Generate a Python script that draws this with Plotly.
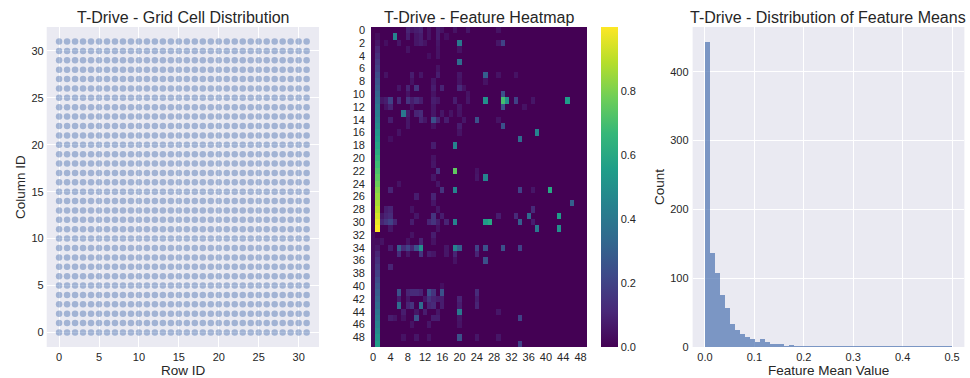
import plotly.graph_objects as go

# ---------------- data ----------------
# 32 x 32 grid of cell ids (row id, column id)
grid_rows = list(range(32))
grid_cols = list(range(32))

# Feature heatmap: first 50 cells x first 50 features
n_cells = 50
n_feats = 50
feature0 = [0.0] * 32 + [0.03] * 18
feature1 = [0.00, 0.03, 0.06, 0.10, 0.13, 0.16, 0.19, 0.23, 0.26, 0.29,
            0.32, 0.35, 0.39, 0.42, 0.45, 0.48, 0.52, 0.55, 0.58, 0.61,
            0.65, 0.68, 0.71, 0.74, 0.77, 0.81, 0.84, 0.87, 0.90, 0.94,
            0.97, 1.00, 0.00, 0.03, 0.06, 0.10, 0.13, 0.16, 0.19, 0.23,
            0.26, 0.29, 0.32, 0.35, 0.39, 0.42, 0.45, 0.48, 0.52, 0.55]
# remaining non-zero entries: (cell, feature, value)
feature_cells = [
    (0, 8, 0.10), (0, 9, 0.06), (0, 10, 0.08), (0, 11, 0.10), (0, 13, 0.05), (0, 15, 0.08),
    (0, 16, 0.05), (0, 19, 0.05), (0, 22, 0.06), (0, 29, 0.05),
    (1, 5, 0.45), (1, 8, 0.08), (1, 10, 0.06), (1, 11, 0.08), (1, 13, 0.05), (1, 15, 0.08), (1, 17, 0.04),
    (2, 3, 0.04), (2, 6, 0.06), (2, 10, 0.06), (2, 11, 0.08), (2, 12, 0.05), (2, 15, 0.06),
    (2, 20, 0.40), (2, 29, 0.06), (2, 30, 0.20),
    (3, 8, 0.05), (3, 15, 0.05), (3, 20, 0.05),
    (4, 13, 0.04), (4, 15, 0.05),
    (5, 20, 0.35),
    (6, 15, 0.05),
    (7, 3, 0.05), (7, 9, 0.08), (7, 11, 0.06), (7, 15, 0.08), (7, 20, 0.06), (7, 26, 0.30),
    (7, 29, 0.05), (7, 33, 0.05),
    (8, 9, 0.05), (8, 14, 0.06), (8, 20, 0.05), (8, 26, 0.05),
    (9, 6, 0.06), (9, 8, 0.10), (9, 10, 0.15), (9, 14, 0.08), (9, 16, 0.10), (9, 20, 0.12), (9, 21, 0.05),
    (10, 8, 0.05), (10, 14, 0.05), (10, 22, 0.05), (10, 30, 0.25),
    (11, 2, 0.06), (11, 3, 0.08), (11, 4, 0.20), (11, 6, 0.12), (11, 8, 0.15), (11, 9, 0.08),
    (11, 10, 0.12), (11, 11, 0.08), (11, 14, 0.08), (11, 15, 0.06), (11, 19, 0.08), (11, 22, 0.06),
    (11, 26, 0.50), (11, 30, 0.70), (11, 31, 0.50), (11, 33, 0.20), (11, 37, 0.06), (11, 45, 0.55),
    (12, 3, 0.05), (12, 4, 0.10), (12, 9, 0.05), (12, 14, 0.06), (12, 20, 0.06), (12, 30, 0.25), (12, 35, 0.05),
    (13, 7, 0.40), (13, 8, 0.08), (13, 10, 0.10), (13, 11, 0.12), (13, 14, 0.06), (13, 16, 0.06),
    (13, 18, 0.05), (13, 20, 0.05),
    (14, 4, 0.08), (14, 8, 0.06), (14, 11, 0.10), (14, 12, 0.06), (14, 14, 0.25), (14, 15, 0.10),
    (14, 17, 0.08), (14, 21, 0.06), (14, 24, 0.25), (14, 29, 0.05),
    (15, 8, 0.06), (15, 14, 0.05), (15, 20, 0.08), (15, 30, 0.25),
    (16, 6, 0.05), (16, 20, 0.05), (16, 38, 0.45),
    (17, 4, 0.04), (17, 34, 0.35),
    (18, 14, 0.08), (18, 19, 0.45),
    (20, 14, 0.05),
    (21, 14, 0.06),
    (22, 15, 0.15), (22, 19, 0.75), (22, 24, 0.05),
    (23, 14, 0.06), (23, 24, 0.06), (23, 26, 0.45),
    (24, 6, 0.05), (24, 15, 0.06),
    (25, 4, 0.10), (25, 16, 0.15), (25, 19, 0.45), (25, 34, 0.20), (25, 37, 0.06), (25, 41, 0.60),
    (26, 10, 0.08), (26, 14, 0.10),
    (27, 14, 0.06), (27, 46, 0.30),
    (28, 3, 0.08), (28, 4, 0.10), (28, 9, 0.05), (28, 15, 0.06), (28, 37, 0.12),
    (29, 2, 0.06), (29, 3, 0.10), (29, 4, 0.12), (29, 10, 0.06), (29, 14, 0.15), (29, 16, 0.08),
    (29, 29, 0.08), (29, 33, 0.12), (29, 36, 0.35), (29, 43, 0.55),
    (30, 2, 0.10), (30, 3, 0.15), (30, 4, 0.20), (30, 5, 0.10), (30, 9, 0.08), (30, 13, 0.10),
    (30, 14, 0.15), (30, 15, 0.08), (30, 17, 0.10), (30, 19, 0.45), (30, 26, 0.55), (30, 27, 0.60),
    (30, 34, 0.30), (30, 37, 0.08),
    (31, 4, 0.06), (31, 15, 0.05), (31, 38, 0.40), (31, 43, 0.50),
    (32, 9, 0.05), (32, 14, 0.08),
    (33, 2, 0.05), (33, 8, 0.05), (33, 11, 0.10), (33, 14, 0.05),
    (34, 4, 0.08), (34, 6, 0.30), (34, 7, 0.12), (34, 8, 0.20), (34, 9, 0.10), (34, 10, 0.25),
    (34, 11, 0.50), (34, 17, 0.06), (34, 19, 0.45), (34, 20, 0.30), (34, 24, 0.20), (34, 26, 0.25),
    (34, 30, 0.25), (34, 34, 0.20),
    (35, 6, 0.12), (35, 8, 0.06), (35, 11, 0.15), (35, 13, 0.08), (35, 14, 0.06), (35, 17, 0.06),
    (35, 19, 0.10), (35, 24, 0.10),
    (36, 19, 0.05), (36, 26, 0.25),
    (37, 4, 0.10),
    (40, 16, 0.04),
    (41, 6, 0.25), (41, 8, 0.10), (41, 9, 0.12), (41, 10, 0.12), (41, 11, 0.10), (41, 13, 0.25),
    (41, 14, 0.15), (41, 16, 0.25), (41, 24, 0.12),
    (42, 6, 0.08), (42, 8, 0.06), (42, 12, 0.06), (42, 13, 0.15), (42, 14, 0.10), (42, 15, 0.08),
    (42, 16, 0.08), (42, 20, 0.10), (42, 24, 0.08),
    (43, 6, 0.35), (43, 8, 0.10), (43, 9, 0.15), (43, 11, 0.35), (43, 13, 0.10), (43, 14, 0.12),
    (43, 16, 0.08), (43, 20, 0.08), (43, 24, 0.10),
    (44, 7, 0.08), (44, 10, 0.06), (44, 12, 0.08), (44, 15, 0.06), (44, 20, 0.40), (44, 29, 0.06),
    (45, 4, 0.08), (45, 5, 0.06), (45, 7, 0.05), (45, 10, 0.25), (45, 14, 0.08), (45, 15, 0.08),
    (45, 20, 0.06), (45, 34, 0.20),
    (46, 9, 0.05), (46, 13, 0.06), (46, 20, 0.05),
    (48, 7, 0.05), (48, 10, 0.06), (48, 13, 0.05), (48, 20, 0.25), (48, 24, 0.06), (48, 29, 0.06),
    (49, 34, 0.20),
]

# Histogram of feature means: 50 bins of width 0.01 over [0, 0.5]
hist_edges_start = 0.0
hist_bin_width = 0.01
hist_counts = [443, 137, 108, 75, 57, 34, 25, 19, 15, 11,
               8, 12, 8, 5, 5, 4, 1, 3, 1, 1,
               1, 1, 2, 1, 1, 1, 1, 2, 1, 1,
               1, 1, 1, 1, 1, 1, 1, 2, 1, 1,
               1, 1, 2, 1, 1, 1, 1, 1, 1, 2]

# ---------------- build ----------------
z = [[0.0] * n_feats for _ in range(n_cells)]
for i in range(n_cells):
    z[i][0] = feature0[i]
    z[i][1] = feature1[i]
for r, c, v in feature_cells:
    z[r][c] = v

W, H = 970, 378
def px_x(p):
    return p / W
def px_y(p):
    return 1 - p / H

BG = "#EAEAF2"
TXT = "#262626"
FONT = "Liberation Sans, Arial, sans-serif"

y_dom = [px_y(347), px_y(27)]

fig = go.Figure()

# grid cells scatter
sx = [r for r in grid_rows for c in grid_cols]
sy = [c for r in grid_rows for c in grid_cols]
fig.add_trace(go.Scatter(
    x=sx, y=sy, mode="markers",
    marker=dict(size=6.5, color="rgba(76,114,176,0.45)", line=dict(width=0)),
    xaxis="x", yaxis="y", showlegend=False, hoverinfo="skip",
))

# feature heatmap
fig.add_trace(go.Heatmap(
    z=z, x=list(range(n_feats)), y=list(range(n_cells)),
    colorscale="Viridis", zmin=0, zmax=max(max(row) for row in z),
    xaxis="x2", yaxis="y2",
    colorbar=dict(
        x=px_x(601), xanchor="left", xpad=0, ypad=0,
        y=px_y(27), yanchor="top",
        len=320, lenmode="pixels", thickness=17, thicknessmode="pixels",
        outlinewidth=0, ticks="", tickvals=[0, 0.2, 0.4, 0.6, 0.8],
        ticktext=["0.0", "0.2", "0.4", "0.6", "0.8"],
        tickfont=dict(size=11, color=TXT, family=FONT),
    ),
))

# feature-mean histogram
centers = [hist_edges_start + hist_bin_width * (k + 0.5) for k in range(len(hist_counts))]
fig.add_trace(go.Bar(
    x=centers, y=hist_counts, width=hist_bin_width,
    marker=dict(color="rgba(76,114,176,0.7)", line=dict(width=0)),
    xaxis="x3", yaxis="y3", showlegend=False, hoverinfo="skip",
))

axis_common = dict(
    showline=False, zeroline=False, ticks="", ticklen=0, automargin=False,
    tickfont=dict(size=11, color=TXT, family=FONT),
)

fig.update_layout(
    width=W, height=H,
    margin=dict(l=0, r=0, t=0, b=0, autoexpand=False),
    paper_bgcolor="white", plot_bgcolor=BG,
    font=dict(family=FONT, color=TXT),
    showlegend=False,
    bargap=0,
    xaxis=dict(domain=[px_x(46.7), px_x(319)], range=[-1.55, 32.55],
               tickvals=[0, 5, 10, 15, 20, 25, 30], showgrid=True, gridcolor="white",
               gridwidth=1, ticklabelstandoff=2, anchor="y", **axis_common),
    yaxis=dict(domain=y_dom, range=[-1.55, 32.55],
               tickvals=[0, 5, 10, 15, 20, 25, 30], showgrid=True, gridcolor="white",
               gridwidth=1, ticklabelstandoff=2, anchor="x", **axis_common),
    xaxis2=dict(domain=[px_x(371), px_x(587)], range=[-0.5, 49.5],
                tickvals=list(range(0, 50, 4)), showgrid=False, ticklabelstandoff=2,
                anchor="y2", **axis_common),
    yaxis2=dict(domain=y_dom, range=[49.5, -0.5],
                tickvals=list(range(0, 50, 2)), showgrid=False, ticklabelstandoff=5,
                anchor="x2", **axis_common),
    xaxis3=dict(domain=[px_x(692.6), px_x(964.4)], range=[-0.025, 0.525],
                tickvals=[0, 0.1, 0.2, 0.3, 0.4, 0.5],
                ticktext=["0.0", "0.1", "0.2", "0.3", "0.4", "0.5"],
                showgrid=True, gridcolor="white", gridwidth=1, ticklabelstandoff=2,
                anchor="y3", **axis_common),
    yaxis3=dict(domain=y_dom, range=[0, 443 * 1.05],
                tickvals=[0, 100, 200, 300, 400], showgrid=True, gridcolor="white",
                gridwidth=1, ticklabelstandoff=3, anchor="x3", **axis_common),
)

# titles and axis labels
def add_text(text, x, y, size, angle=0, yanchor="middle"):
    fig.add_annotation(text=text, x=px_x(x), y=px_y(y), xref="paper", yref="paper",
                       showarrow=False, xanchor="center", yanchor=yanchor,
                       textangle=angle, borderpad=0,
                       font=dict(size=size, color=TXT, family=FONT))

add_text("T-Drive - Grid Cell Distribution", 183, 17, 16)
add_text("T-Drive - Feature Heatmap", 479, 17, 16)
add_text("T-Drive - Distribution of Feature Means", 828, 17, 16)
add_text("Row ID", 183, 370.5, 13.5)
add_text("Column ID", 21, 187, 13.5, angle=-90)
add_text("Count", 660, 187, 13.5, angle=-90)
add_text("Feature Mean Value", 828, 370.5, 13.5)

fig.write_html("out.html")
